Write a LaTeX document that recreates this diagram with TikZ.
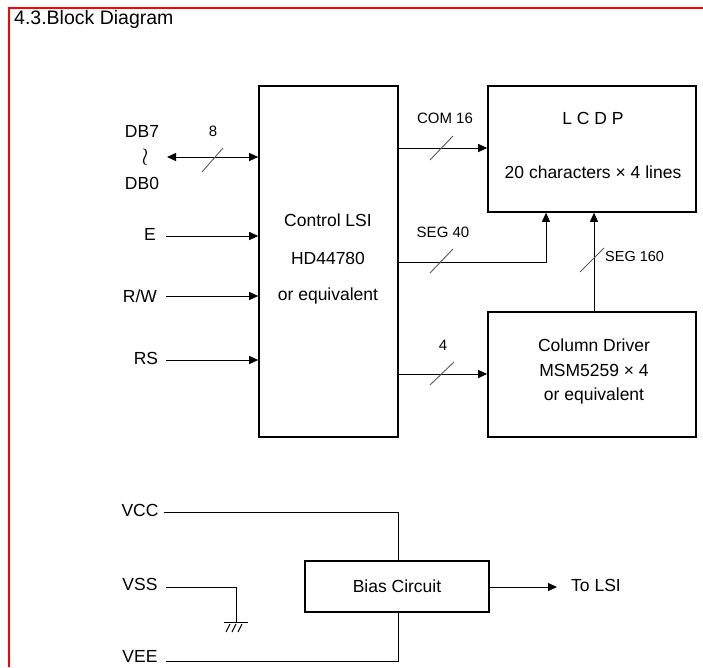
\documentclass[tikz,border=0pt]{standalone}
\usepackage{fontspec}
\setmainfont{Liberation Sans}
\usetikzlibrary{arrows.meta}
\begin{document}
\begin{tikzpicture}[x=1pt,y=-1pt,
  blk/.style={draw,line width=1.6pt,inner sep=0pt},
  lbl/.style={font=\fontsize{17.5}{20}\selectfont,inner sep=0pt},
  slbl/.style={font=\fontsize{15}{18}\selectfont,inner sep=0pt},
  wire/.style={line width=1pt},
  arr/.style={wire,-{Triangle[length=9pt,width=8pt]}},
  slash/.style={draw=gray!70!black,line width=0.9pt}]
\useasboundingbox (0,0) rectangle (703,667);
% red frame
\draw[red,line width=2.2pt] (9,667) -- (9,8) -- (703,8);
\node[font=\fontsize{19.5}{22}\selectfont,inner sep=0pt,anchor=west] (title) at (14,19) {4.3.Block Diagram};
% boxes
\node[blk,minimum width=139pt,minimum height=351pt] (lsi) at (328.5,261.5) {};
\node[lbl] (lsi1) at (328,220) {Control LSI};
\node[lbl] (lsi2) at (328,258) {HD44780};
\node[lbl] (lsi3) at (328,296) {or equivalent};
\node[blk,minimum width=208pt,minimum height=126pt] (lcd) at (592,149) {};
\node[lbl] (lcd1) at (593,118) {L C D P};
\node[lbl] (lcd2) at (593,172) {20 characters × 4 lines};
\node[blk,minimum width=208pt,minimum height=125pt] (col) at (592,374.5) {};
\node[lbl] (col1) at (594,345) {Column Driver};
\node[lbl] (col2) at (594,370) {MSM5259 × 4};
\node[lbl] (col3) at (594,396) {or equivalent};
\node[blk,minimum width=184pt,minimum height=51pt] (bias) at (397,586.5) {};
\node[lbl] (bias1) at (397,586) {Bias Circuit};
% left inputs
\node[lbl] (db7) at (142,131) {DB7};
\node[inner sep=0pt] (tl) at (145,157) {\fontsize{26}{28}\selectfont$\wr$};
\node[lbl] (db0) at (142,183) {DB0};
\node[slbl] (n8) at (213,131) {8};
\coordinate (dbs) at (167,157);
\draw[wire,{Triangle[length=9pt,width=8pt]}-{Triangle[length=9pt,width=8pt]}] (dbs) -- (dbs -| lsi.west);
\draw[slash] (202,172) -- (223,148);
\node[lbl] (e) at (150,234) {E};
\coordinate (es) at (166,236);
\draw[arr] (es) -- (es -| lsi.west);
\node[lbl] (rw) at (140,296) {R/W};
\coordinate (rws) at (166,296);
\draw[arr] (rws) -- (rws -| lsi.west);
\node[lbl] (rs) at (146,358) {RS};
\coordinate (rss) at (166,360);
\draw[arr] (rss) -- (rss -| lsi.west);
% right outputs
\node[slbl] (com) at (445,118) {COM 16};
\coordinate (coms) at (398,148);
\draw[arr] (coms -| lsi.east) -- (coms -| lcd.west);
\draw[slash] (430,160) -- (453,136);
\node[slbl] (seg40) at (443,232) {SEG 40};
\coordinate (segs) at (398,262);
\coordinate (segc) at (546,262);
\draw[arr] (segs -| lsi.east) -- (segc) -- (segc |- lcd.south);
\draw[slash] (430,273) -- (453,249);
\node[slbl] (n4) at (443,345) {4};
\coordinate (fs) at (398,374);
\draw[arr] (fs -| lsi.east) -- (fs -| col.west);
\draw[slash] (430,385) -- (454,362);
\coordinate (s160) at (594,312);
\draw[arr] (s160 |- col.north) -- (s160 |- lcd.south);
\draw[slash] (580,272) -- (604,248);
\node[font=\fontsize{14.5}{17}\selectfont,inner sep=0pt,anchor=west] (seg160) at (605,257) {SEG 160};
% bottom
\node[lbl] (vcc) at (140,510) {VCC};
\coordinate (vccs) at (164,512);
\coordinate (vccc) at (398,512);
\draw[wire] (vccs) -- (vccc) -- (vccc |- bias.north);
\node[lbl] (vss) at (140,584) {VSS};
\coordinate (vsss) at (166,587);
\coordinate (vssc) at (236,587);
\coordinate (gnd) at (236,622);
\draw[wire] (vsss) -- (vssc) -- (gnd);
\draw[wire] (224,622) -- (248,622);
\draw[wire] (226,632) -- (230,624) (232,632) -- (236,624) (238,632) -- (242,624);
\node[lbl] (vee) at (140,656) {VEE};
\coordinate (vees) at (166,661);
\coordinate (veec) at (398,661);
\draw[wire] (vees) -- (veec) -- (veec |- bias.south);
\node[lbl] (tolsi) at (596,585) {To LSI};
\coordinate (tols) at (557,587);
\draw[arr] (tols -| bias.east) -- (tols);
\end{tikzpicture}
\end{document}
